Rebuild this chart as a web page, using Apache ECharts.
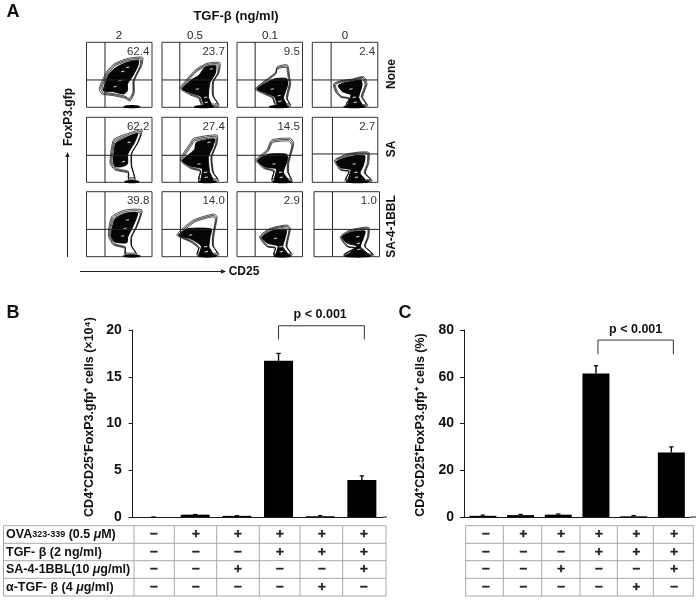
<!DOCTYPE html>
<html><head><meta charset="utf-8">
<style>html,body{margin:0;padding:0;background:#fff}#c{width:700px;height:600px}canvas{filter:blur(0.3px)}</style>
<script src="https://cdn.jsdelivr.net/npm/echarts@6/dist/echarts.min.js"></script>
</head><body><div id="c"></div>
<script>
// ---------- Panel A data (flow-cytometry contours, in 0-195 panel units) ----------
const doseLabels = ['2','0.5','0.1','0'];
const treatmentLabels = ['None','SA','SA-4-1BBL'];
const panelValues = ['62.4','23.7','9.5','2.4','62.2','27.4','14.5','2.7','39.8','14.0','2.9','1.0'];
const panelCross = [[55,82],[53,82],[54,82],[56,82],[55,81],[54,81],[54,81],[60,85],[55,82],[55,82],[54,82],[55,82]];
const panelOuter = [
 [[38,57],[60,107],[85,132],[125,147],[167,150],[165,127],[150,97],[142,77],[142,42],[130,19],[115,27],[80,35],[46,40]],
 [[54,57],[75,85],[99,112],[134,132],[172,134],[170,105],[154,77],[154,32],[170,4],[120,4],[109,27],[84,37]],
 [[54,55],[90,85],[115,105],[120,122],[150,127],[157,90],[160,70],[150,25],[160,4],[115,4],[105,28],[80,40]],
 [[63,70],[85,80],[120,85],[153,92],[163,70],[150,30],[165,4],[100,4],[110,25],[85,30],[70,45]],
 [[70,57],[80,127],[110,142],[165,157],[155,122],[135,87],[135,47],[145,7],[125,7],[125,27],[85,37]],
 [[54,67],[84,117],[94,132],[164,142],[164,117],[149,77],[154,27],[169,4],[109,4],[114,32],[84,42]],
 [[56,67],[89,97],[104,127],[159,132],[169,117],[154,57],[154,27],[164,4],[104,4],[109,32],[79,42]],
 [[66,67],[113,87],[168,90],[168,57],[158,27],[178,4],[98,4],[108,32],[83,37]],
 [[65,65],[75,120],[115,140],[165,140],[150,90],[135,60],[135,30],[150,5],[115,5],[115,25],[80,35]],
 [[44,65],[94,110],[154,128],[164,120],[154,60],[154,30],[169,5],[104,5],[109,25],[84,45]],
 [[67,60],[99,85],[149,95],[159,85],[149,30],[164,5],[109,5],[114,25],[89,30]],
 [[78,60],[108,80],[163,88],[163,60],[153,30],[178,5],[88,5],[123,25],[98,30]]
];
const panelCore = [
 [[50,52],[67,100],[92,122],[125,136],[155,140],[152,122],[135,90],[122,70],[122,50],[110,40],[80,47],[58,47]],
 [[60,55],[87,82],[110,96],[128,120],[160,124],[158,100],[143,75],[138,30],[148,6],[127,6],[114,34],[85,44]],
 [[60,55],[110,85],[148,86],[150,65],[138,28],[148,6],[122,6],[112,32],[85,44]],
 [[77,65],[92,73],[120,78],[145,82],[148,65],[138,30],[148,6],[107,6],[115,37],[90,47]],
 [[80,60],[87,117],[112,131],[152,146],[142,118],[123,85],[122,55],[105,47],[87,47]],
 [[60,65],[97,98],[102,120],[156,130],[152,108],[138,75],[142,30],[152,6],[117,6],[120,40],[85,49]],
 [[62,65],[92,84],[148,84],[150,68],[138,30],[152,6],[112,6],[117,40],[82,47]],
 [[72,62],[115,78],[156,80],[152,50],[142,28],[157,6],[107,6],[115,37],[85,44]],
 [[74,62],[84,112],[115,129],[152,131],[138,90],[123,60],[120,42],[85,44]],
 [[50,65],[77,84],[147,83],[143,60],[140,30],[152,6],[112,6],[117,32],[88,52]],
 [[74,58],[105,78],[147,82],[143,55],[136,30],[152,6],[117,6],[122,32],[92,40]],
 [[84,60],[110,73],[152,77],[147,55],[138,30],[162,6],[102,6],[127,32],[100,40]]
];
const panelPeaks = [
 [[123,120],[108,108],[85,62],[100,80]],[[147,115],[105,55],[130,30],[132,15]],[[105,55],[125,35],[128,18]],[[115,55],[125,30],[128,15]],
 [[127,120],[110,62]],[[140,120],[110,55],[130,30],[132,15]],[[110,55],[130,30],[132,15]],[[125,55],[130,30],[132,15]],
 [[122,110],[108,62],[115,85]],[[85,65],[130,30],[132,15]],[[115,55],[130,30],[132,15]],[[130,60],[132,40],[134,22]]
];
const panelBase = [[135,50],[125,60],[125,60],[125,65],[135,45],[135,55],[135,60],[135,70],[135,55],[135,60],[135,55],[130,85]];
const panelLeft = [86.5,162,237,312.3,86.5,162,237,312.3,86.5,162,237,314];
const panelTop = [42.3,42.3,42.3,42.3,117.3,117.3,117.3,117.3,191.7,191.7,191.7,191.7];

// ---------- Panels B, C data ----------
const conditions = ['1','2','3','4','5','6'];
const countValues = [0,0.25,0.12,16.7,0.08,3.95];
const countErrors = [0,0.27,0.14,17.5,0.15,4.4];
const percentValues = [0.5,0.8,1.0,61.4,0.3,27.6];
const percentErrors = [0.8,1.1,1.3,64.7,0.6,30];
const countTicks = [0,5,10,15,20];
const percentTicks = [0,20,40,60,80];
const rowLabels = ['{a|OVA}{s|323-339}{a| (0.5 }{i|μ}{a|M)}','{a|TGF- β (2 ng/ml)}','{a|SA-4-1BBL(10 }{i|μ}{a|g/ml)}','{a|α-TGF- β (4 }{i|μ}{a|g/ml)}'];
const rowOVA = ['−','+','+','+','+','+'];
const rowTGF = ['−','−','−','+','+','+'];
const rowSA = ['−','−','+','−','−','+'];
const rowAnti = ['−','−','−','−','+','−'];
const signRows = [rowOVA,rowTGF,rowSA,rowAnti];

const FONT = '"Liberation Sans", Arial, sans-serif';
const INK = '#1a1a1a';
const grid=[], xAxis=[], yAxis=[], series=[], graphic=[];

// ---------- Panel A ----------
panelOuter.forEach((outer,i)=>{
  const g = grid.length;
  grid.push({left:panelLeft[i],top:panelTop[i],width:65.5,height:65,show:true,backgroundColor:'#fff',borderColor:'#333',borderWidth:1});
  xAxis.push({gridIndex:g,type:'value',min:0,max:195,show:false});
  yAxis.push({gridIndex:g,type:'value',min:0,max:195,show:false});
  series.push({
    type:'custom',xAxisIndex:g,yAxisIndex:g,coordinateSystem:'cartesian2d',silent:true,
    data:outer,
    encode:{x:0,y:1},
    renderItem(params,api){
      if(params.dataIndex!==0) return null;
      const pts = outer.map(p=>api.coord(p));
      const cx = pts.reduce((s,p)=>s+p[0],0)/pts.length, cy = pts.reduce((s,p)=>s+p[1],0)/pts.length;
      const kids=[];
      const [bx,bw]=panelBase[i];
      const bc=api.coord([bx,2]); const be=api.coord([bx+bw/2,2]);
      kids.push({type:'ellipse',shape:{cx:bc[0],cy:bc[1],rx:be[0]-bc[0],ry:1.6},style:{fill:'#000'}});
      [1,0.94,0.88].forEach(k=>{
        kids.push({type:'polygon',shape:{points:pts.map(p=>[cx+(p[0]-cx)*k,cy+(p[1]-cy)*k]),smooth:0.2},
          style:{fill:'none',stroke:'#000',lineWidth:0.7}});
      });
      kids.push({type:'polygon',shape:{points:panelCore[i].map(p=>api.coord(p)),smooth:0.2},style:{fill:'#060606',stroke:'#000',lineWidth:1}});
      panelPeaks[i].forEach(p=>{
        const c=api.coord(p);
        kids.push({type:'line',shape:{x1:c[0]-1.6,y1:c[1]+0.3,x2:c[0]+1.6,y2:c[1]-0.3},style:{stroke:'#fff',lineWidth:1.1,opacity:0.8}});
      });
      const [vx,hy]=panelCross[i];
      const v0=api.coord([vx,0]),v1=api.coord([vx,195]),h0=api.coord([0,hy]),h1=api.coord([195,hy]);
      kids.push({type:'line',shape:{x1:v0[0],y1:v0[1],x2:v1[0],y2:v1[1]},style:{stroke:'#222',lineWidth:1}});
      kids.push({type:'line',shape:{x1:h0[0],y1:h0[1],x2:h1[0],y2:h1[1]},style:{stroke:'#222',lineWidth:1}});
      const t=api.coord([187,167]);
      kids.push({type:'text',style:{text:panelValues[i],x:t[0],y:t[1],align:'right',verticalAlign:'middle',fill:'#333',font:'11.5px '+FONT}});
      return {type:'group',children:kids};
    }
  });
});

// ---------- Panels B, C ----------
function addBars(cfg){
  const g=grid.length;
  grid.push({left:cfg.left,top:330,width:cfg.width,height:187});
  xAxis.push({gridIndex:g,type:'category',data:conditions,axisLabel:{show:false},axisTick:{show:false},
    axisLine:{lineStyle:{color:INK,width:1}}});
  yAxis.push({gridIndex:g,type:'value',min:0,max:cfg.ticks[cfg.ticks.length-1],interval:cfg.ticks[1],
    splitLine:{show:false},
    axisLine:{show:true,lineStyle:{color:INK,width:1}},
    axisTick:{show:true,length:4,lineStyle:{color:INK}},
    axisLabel:{fontFamily:FONT,fontWeight:'bold',fontSize:14,color:'#111',margin:cfg.tickMargin},
    name:cfg.name,nameLocation:'middle',nameGap:cfg.nameGap,
    nameTextStyle:{fontFamily:FONT,fontWeight:'bold',fontSize:12.5,color:'#111',padding:cfg.namePadding}});
  series.push({type:'bar',xAxisIndex:g,yAxisIndex:g,data:cfg.values,barWidth:cfg.barWidth,itemStyle:{color:'#000'},silent:true,z:3});
  series.push({type:'custom',xAxisIndex:g,yAxisIndex:g,silent:true,z:2,
    data:cfg.errors.map((e,i)=>[i,cfg.values[i],e]),encode:{x:0,y:2},
    renderItem(params,api){
      const top=api.coord([api.value(0),api.value(2)]), low=api.coord([api.value(0),api.value(1)]);
      return {type:'group',children:[
        {type:'line',shape:{x1:top[0],y1:low[1],x2:top[0],y2:top[1]},style:{stroke:'#000',lineWidth:1.4}},
        {type:'line',shape:{x1:top[0]-2.2,y1:top[1],x2:top[0]+2.2,y2:top[1]},style:{stroke:'#000',lineWidth:1.2}}
      ]};
    }});
  series.push({type:'custom',xAxisIndex:g,yAxisIndex:g,silent:true,
    data:[[3,cfg.brTop],[5,cfg.brTop]],encode:{x:0,y:1},
    renderItem(params,api){
      if(params.dataIndex!==0) return null;
      const a=api.coord([3,cfg.brTop]),b=api.coord([5,cfg.brTop]),a2=api.coord([3,cfg.brBot]);
      const t=api.coord([4,cfg.brText]);
      const dL=cfg.brDx[0],dR=cfg.brDx[1];
      return {type:'group',children:[
        {type:'polyline',shape:{points:[[a[0]+dL,a2[1]],[a[0]+dL,a[1]],[b[0]+dR,b[1]],[b[0]+dR,a2[1]]]},style:{fill:'none',stroke:'#333',lineWidth:1}},
        {type:'text',style:{text:'p < 0.001',x:t[0]+cfg.txtDx,y:t[1],align:'center',verticalAlign:'middle',fill:'#111',font:'bold 12.5px '+FONT}}
      ]};
    }});
  const gt=grid.length;
  grid.push({left:cfg.tableLeft,top:525.7,width:cfg.tableWidth,height:70.3});
  xAxis.push({gridIndex:gt,type:'category',data:conditions,show:false});
  yAxis.push({gridIndex:gt,type:'category',inverse:true,data:rowLabels,
    axisLine:{show:false},axisTick:{show:false},
    axisLabel:{show:cfg.showRows,margin:cfg.tableLeft-6,align:'left',
      rich:{a:{fontFamily:FONT,fontWeight:'bold',fontSize:12.5,color:'#111'},
            s:{fontFamily:FONT,fontWeight:'bold',fontSize:9,color:'#111'},
            i:{fontFamily:FONT,fontWeight:'bold',fontStyle:'italic',fontSize:12.5,color:'#111'}}}});
  const cells=[];
  signRows.forEach((row,r)=>row.forEach((s,c)=>cells.push([c,r,s])));
  series.push({type:'scatter',xAxisIndex:gt,yAxisIndex:gt,silent:true,data:cells,symbolSize:0,
    label:{show:true,position:'inside',formatter:p=>p.value[2],fontFamily:'"DejaVu Sans", sans-serif',fontWeight:'bold',fontSize:10.5,color:'#000',textBorderColor:'#000',textBorderWidth:0.7}});
  const rule={stroke:'#a8a8a8',lineWidth:1};
  cfg.rowRules.forEach(y=>graphic.push({type:'line',silent:true,shape:{x1:cfg.ruleX0,y1:y,x2:cfg.ruleX1,y2:y},style:rule}));
  cfg.colRules.forEach(x=>graphic.push({type:'line',silent:true,shape:{x1:x,y1:525.7,x2:x,y2:596},style:rule}));
  graphic.push({type:'line',silent:true,shape:{x1:cfg.left+cfg.width,y1:517,x2:cfg.axisEnd,y2:517},style:{stroke:INK,lineWidth:1}});
}
const tableRows=[525.7,543.3,560.7,578.3,596];
addBars({left:132.7,width:250,ticks:countTicks,values:countValues,errors:countErrors,barWidth:29,tickMargin:11,
  name:'CD4⁺CD25⁺FoxP3.gfp⁺ cells (×10⁴)',nameGap:37,namePadding:[0,0,0,13],axisEnd:387,
  brTop:20.45,brBot:19,brText:21.6,brDx:[0,2.5],txtDx:0,
  tableLeft:133,tableWidth:252,showRows:true,ruleX0:3.5,ruleX1:386,rowRules:tableRows,colRules:[3.5,134,174.3,216.7,259.3,300,342.7,386]});
addBars({left:464,width:226.2,ticks:percentTicks,values:percentValues,errors:percentErrors,barWidth:27,tickMargin:10,
  name:'CD4⁺CD25⁺FoxP3.gfp⁺ cells (%)',nameGap:37,namePadding:[0,3,0,0],axisEnd:696,
  brTop:75.7,brBot:69.6,brText:80.3,brDx:[2,2],txtDx:2,
  tableLeft:467,tableWidth:226,showRows:false,ruleX0:465.7,ruleX1:693.3,rowRules:tableRows,colRules:[465.7,503.3,541.7,580,617.3,653.3,693.3]});

// ---------- Free text ----------
function txt(text,x,y,font,opt){
  graphic.push({type:'text',silent:true,x,y,rotation:(opt&&opt.rot)||0,z:10,
    style:{text,x:0,y:0,align:'center',verticalAlign:'middle',font:font+' '+FONT,fill:(opt&&opt.fill)||'#111'}});
}
txt('A',13,12.5,'bold 18px'); txt('B',13,313,'bold 18px'); txt('C',405,313,'bold 18px');
txt('TGF-β (ng/ml)',236,16,'bold 13px');
[119,195,270,345].forEach((x,i)=>txt(doseLabels[i],x,35.5,'11.5px',{fill:'#222'}));
[74,149,226.5].forEach((y,i)=>txt(treatmentLabels[i],391.5,y,'bold 12px',{rot:Math.PI/2}));
txt('FoxP3.gfp',69,117,'bold 12px',{rot:Math.PI/2});
txt('CD25',244,272,'bold 12px');
graphic.push({type:'line',silent:true,shape:{x1:67.5,y1:257,x2:67.5,y2:156},style:{stroke:'#222',lineWidth:1}});
graphic.push({type:'polygon',silent:true,shape:{points:[[65.3,157],[69.7,157],[67.5,152]]},style:{fill:'#222'}});
graphic.push({type:'line',silent:true,shape:{x1:80,y1:271.5,x2:222,y2:271.5},style:{stroke:'#222',lineWidth:1}});
graphic.push({type:'polygon',silent:true,shape:{points:[[221,269.3],[221,273.7],[226,271.5]]},style:{fill:'#222'}});

const chart=echarts.init(document.getElementById('c'),null,{renderer:'canvas'});
chart.setOption({backgroundColor:'#fff',animation:false,grid,xAxis,yAxis,series,graphic:{elements:graphic}});
</script></body></html>
